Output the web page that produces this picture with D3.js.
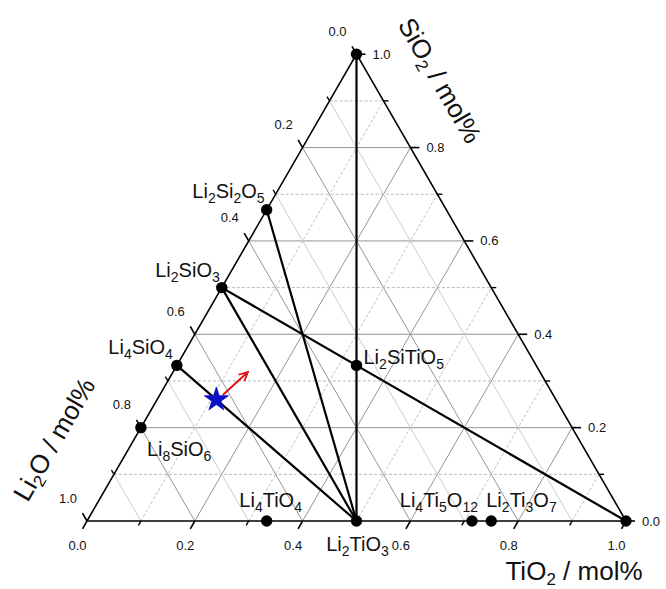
<!DOCTYPE html>
<html>
<head>
<meta charset="utf-8">
<script src="https://cdn.jsdelivr.net/npm/d3@7"></script>
<style>
  body { margin: 0; background: #fff; }
  text { font-family: "Liberation Sans", Arial, sans-serif; fill: #111; }
</style>
</head>
<body>
<div id="ternary"></div>
<script>
// compounds and their mole fractions (Li2O, SiO2, TiO2)
var compounds = ["SiO2", "Li2Si2O5", "Li2SiO3", "Li4SiO4", "Li8SiO6", "Li2SiTiO5",
                 "Li4TiO4", "Li2TiO3", "Li4Ti5O12", "Li2Ti3O7", "TiO2"];
var li2oFrac = [0, 1/3, 1/2, 2/3, 4/5, 1/3, 2/3, 1/2, 2/7, 1/4, 0];
var sio2Frac = [1, 2/3, 1/2, 1/3, 1/5, 1/3, 0, 0, 0, 0, 0];
var tio2Frac = [0, 0, 0, 0, 0, 1/3, 1/3, 1/2, 5/7, 3/4, 1];

// tie lines between compounds
var tieFrom = ["SiO2", "Li2Si2O5", "Li2SiO3", "Li2SiO3", "Li4SiO4"];
var tieTo   = ["Li2TiO3", "Li2TiO3", "Li2TiO3", "TiO2", "Li2TiO3"];

// sample composition (star) and arrow (Li2O, SiO2, TiO2)
var sample = [0.63, 0.26, 0.11];
var arrowStart = [0.613, 0.270, 0.117];
var arrowEnd = [0.542, 0.319, 0.139];

var majorTicks = [0, 0.2, 0.4, 0.6, 0.8, 1.0];
var minorTicks = [0.1, 0.3, 0.5, 0.7, 0.9];
var tickLabels = ["0.0", "0.2", "0.4", "0.6", "0.8", "1.0"];

// label placement: [anchor, dx, dy]
var labelPos = {
  "Li2Si2O5": ["end", -2, -12],
  "Li2SiO3": ["end", -2, -11],
  "Li4SiO4": ["end", -4, -11],
  "Li8SiO6": ["start", 6, 28],
  "Li2SiTiO5": ["start", 7, -1],
  "Li4TiO4": ["middle", 4, -14],
  "Li2TiO3": ["middle", 1, 30],
  "Li4Ti5O12": ["end", 6, -14],
  "Li2Ti3O7": ["start", -5, -14]
};

var width = 666, height = 589;
var svg = d3.select("#ternary").append("svg")
  .attr("width", width)
  .attr("height", height);

var side = 539;
var x = d3.scaleLinear().domain([0, 1]).range([87, 87 + side]);
var y = d3.scaleLinear().domain([0, 1]).range([521, 521 - side * Math.sqrt(3) / 2]);

// (li, si, ti) -> screen
function pt(c) {
  return [x(c[2] + c[1] / 2), y(c[1])];
}
function comp(name) {
  var i = compounds.indexOf(name);
  return [li2oFrac[i], sio2Frac[i], tio2Frac[i]];
}

function line(a, b) {
  var p = pt(a), q = pt(b);
  return svg.append("line")
    .attr("x1", p[0]).attr("y1", p[1])
    .attr("x2", q[0]).attr("y2", q[1]);
}

// grid
var grid = majorTicks.slice(1, 5).map(v => ({v: v, major: true}))
  .concat(minorTicks.map(v => ({v: v, major: false})));

grid.forEach(function(g) {
  var v = g.v;
  // constant SiO2 (horizontal)
  line([1 - v, v, 0], [0, v, 1 - v])
    .attr("stroke", g.major ? "#959595" : "#b8b8b8")
    .attr("stroke-dasharray", g.major ? null : "3,2");
  // constant TiO2
  line([1 - v, 0, v], [0, 1 - v, v])
    .attr("stroke", g.major ? "#959595" : "#c0c0c0")
    .attr("stroke-dasharray", g.major ? null : "3,2");
  // constant Li2O
  line([v, 1 - v, 0], [v, 0, 1 - v])
    .attr("stroke", g.major ? "#959595" : "#cccccc");
});

// frame
var corners = [[1, 0, 0], [0, 0, 1], [0, 1, 0]];
svg.append("polygon")
  .attr("points", corners.map(c => pt(c).join(",")).join(" "))
  .attr("fill", "none")
  .attr("stroke", "#000")
  .attr("stroke-width", 1.6);

// ticks and tick labels
var s32 = Math.sqrt(3) / 2;
var axes = [
  // bottom: TiO2
  {at: v => [1 - v, 0, v], dir: [-0.5, s32], lab: [-9.5, 24], anchor: "middle"},
  // left: Li2O
  {at: v => [v, 1 - v, 0], dir: [-0.5, -s32], lab: [-19, -23], anchor: "middle"},
  // right: SiO2
  {at: v => [0, v, 1 - v], dir: [1, 0], lab: [16, 0], anchor: "start"}
];

axes.forEach(function(ax) {
  majorTicks.forEach(function(v, i) {
    var p = pt(ax.at(v));
    svg.append("line")
      .attr("x1", p[0]).attr("y1", p[1])
      .attr("x2", p[0] + ax.dir[0] * 9).attr("y2", p[1] + ax.dir[1] * 9)
      .attr("stroke", "#000").attr("stroke-width", 1.6);
    svg.append("text")
      .attr("x", p[0] + ax.lab[0]).attr("y", p[1] + ax.lab[1])
      .attr("dy", "0.35em")
      .attr("text-anchor", ax.anchor)
      .style("font-size", "13px")
      .text(tickLabels[i]);
  });
  minorTicks.forEach(function(v) {
    var p = pt(ax.at(v));
    svg.append("line")
      .attr("x1", p[0]).attr("y1", p[1])
      .attr("x2", p[0] + ax.dir[0] * 5).attr("y2", p[1] + ax.dir[1] * 5)
      .attr("stroke", "#000").attr("stroke-width", 1.4);
  });
});

// tie lines
tieFrom.forEach(function(a, i) {
  line(comp(a), comp(tieTo[i]))
    .attr("stroke", "#000")
    .attr("stroke-width", 2.2);
});

// chemical formula with subscripts
function formula(sel, str, big, small, shift) {
  var parts = str.split(/(\d+)/).filter(s => s.length);
  var down = false;
  parts.forEach(function(s) {
    var isNum = /^\d+$/.test(s);
    var t = sel.append("tspan").text(s).style("font-size", (isNum ? small : big) + "px");
    if (isNum && !down) { t.attr("dy", shift); down = true; }
    else if (!isNum && down) { t.attr("dy", -shift); down = false; }
  });
}

// compound points
compounds.forEach(function(name) {
  var p = pt(comp(name));
  svg.append("circle")
    .attr("cx", p[0]).attr("cy", p[1])
    .attr("r", 5.7)
    .attr("fill", "#000");
  if (labelPos[name]) {
    var lp = labelPos[name];
    var t = svg.append("text")
      .attr("x", p[0] + lp[1]).attr("y", p[1] + lp[2])
      .attr("text-anchor", lp[0]);
    formula(t, name, 20, 14, 5);
  }
});

// arrow
svg.append("defs").append("marker")
  .attr("id", "head")
  .attr("viewBox", "0 0 10 10")
  .attr("refX", 9).attr("refY", 5)
  .attr("markerWidth", 5.5).attr("markerHeight", 5.5)
  .attr("orient", "auto")
  .append("path")
  .attr("d", "M1,1 L9,5 L1,9")
  .attr("fill", "none")
  .attr("stroke", "#e01010")
  .attr("stroke-width", 1.6);

line(arrowStart, arrowEnd)
  .attr("stroke", "#e01010")
  .attr("stroke-width", 2)
  .attr("marker-end", "url(#head)");

// sample star
var sp = pt(sample);
svg.append("path")
  .attr("d", d3.symbol().type(d3.symbolStar).size(180)())
  .attr("transform", "translate(" + sp[0] + "," + sp[1] + ")")
  .attr("fill", "#0a10c8")
  .attr("stroke", "#0a10c8")
  .attr("stroke-width", 0.8);

// axis titles
var t1 = svg.append("text")
  .attr("transform", "translate(437,82) rotate(60)")
  .attr("text-anchor", "middle")
  .attr("dy", "0.35em");
formula(t1, "SiO2 / mol%", 26, 17, 5);

var t2 = svg.append("text")
  .attr("transform", "translate(57,441) rotate(-60)")
  .attr("text-anchor", "middle")
  .attr("dy", "0.35em");
formula(t2, "Li2O / mol%", 26, 17, 5);

var t3 = svg.append("text")
  .attr("x", 574).attr("y", 580)
  .attr("text-anchor", "middle");
formula(t3, "TiO2 / mol%", 26, 17, 5);
</script>
</body>
</html>
